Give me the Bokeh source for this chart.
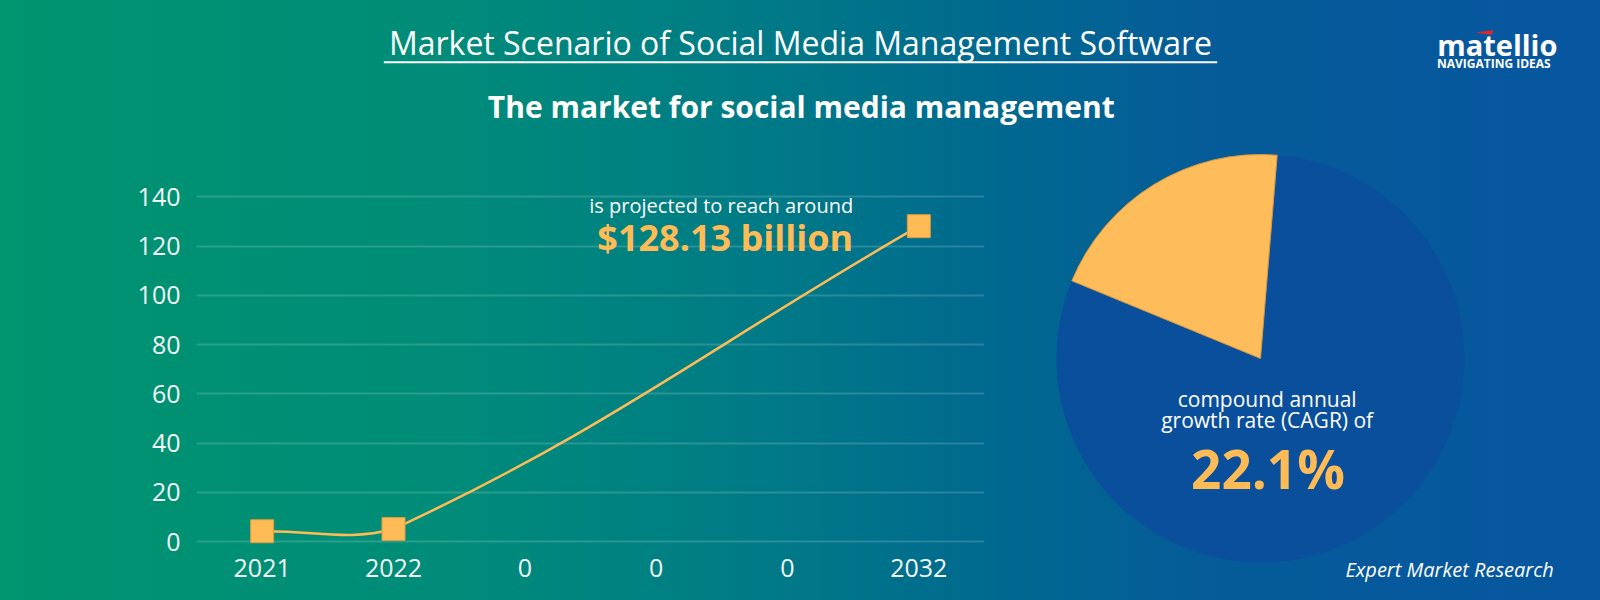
import math
import numpy as np
from bokeh.plotting import figure
from bokeh.layouts import column, row
from bokeh.models import Range1d, FixedTicker, Label
from bokeh.embed import file_html
from bokeh.resources import INLINE

# ---------------- data ----------------
categories = ["2021", "2022", "0", "0", "0", "2032"]
market_values = [4.2, 5.1, None, None, None, 128.13]
y_ticks = [0, 20, 40, 60, 80, 100, 120, 140]

pie_labels = ["CAGR", "rest"]
pie_values = [22.1, 87.9]

title_text = "Market Scenario of Social Media Management Software"
subtitle_text = "The market for social media management"
note_line = "is projected to reach around"
note_value = "$128.13 billion"
cagr_lines = ["compound annual", "growth rate (CAGR) of"]
cagr_value = "22.1%"
source_text = "Expert Market Research"
logo_text = "matellio"
logo_sub = "NAVIGATING IDEAS"

# ---------------- styles ----------------
ORANGE = "#FFBB55"
ORANGE_EDGE = "#E09B3D"
WHITE = "#FFFFFF"
FONT = "Open Sans"
GRADIENT = ("linear-gradient(90deg, #00946f 0%, #008c79 28%, #007a87 48%, "
            "#00698f 62%, #055c98 75%, #0756a0 100%)")


def bare(fig):
    fig.border_fill_color = None
    fig.background_fill_color = None
    fig.outline_line_color = None
    fig.min_border = 0
    fig.frame_align = False
    return fig


# ---------------- header ----------------
header = bare(figure(width=1600, height=148, x_range=Range1d(0, 1600), y_range=Range1d(-148, 0),
                     title=None, x_axis_type=None, y_axis_type=None,
                     output_backend="svg", toolbar_location=None))
header.xgrid.visible = False
header.ygrid.visible = False
header.add_layout(Label(x=800, y=-42.3, text=title_text, text_align="center", text_baseline="alphabetic",
                        text_font=FONT, text_font_size="32px", text_color=WHITE))
header.segment(x0=[383.3], y0=[-61.7], x1=[1216.7], y1=[-61.7], line_color=WHITE, line_width=2)
header.add_layout(Label(x=800.8, y=-106.3, text=subtitle_text, text_align="center", text_baseline="alphabetic",
                        text_font=FONT, text_font_size="30px", text_font_style="bold", text_color=WHITE))
header.add_layout(Label(x=1436.7, y=-44.3, text=logo_text, text_align="left", text_baseline="alphabetic",
                        text_font=FONT, text_font_size="29px", text_font_style="bold", text_color=WHITE))
header.add_layout(Label(x=1436.5, y=-63.0, text=logo_sub, text_align="left", text_baseline="alphabetic",
                        text_font=FONT, text_font_size="12px", text_font_style="bold", text_color=WHITE))
header.patch([1475, 1493, 1491], [-32.0, -29.5, -34.5], fill_color="#E0262B", line_color=None)

# ---------------- line chart ----------------
Y0, Y1 = -2, 141
FRAME_W, FRAME_H = 788, 352
lc = bare(figure(width=1000, height=452, x_range=Range1d(0, len(categories)), y_range=Range1d(Y0, Y1),
                 title=None, output_backend="svg", toolbar_location=None))
lc.min_border_left = 196
lc.min_border_right = 16
lc.min_border_top = 46
lc.min_border_bottom = 54

tick_pos = [i + 0.5 for i in range(len(categories))]
lc.xaxis.ticker = FixedTicker(ticks=tick_pos)
lc.xaxis.major_label_overrides = {t: c for t, c in zip(tick_pos, categories)}
lc.yaxis.ticker = FixedTicker(ticks=y_ticks)
for ax in (lc.xaxis[0], lc.yaxis[0]):
    ax.axis_line_color = None
    ax.major_tick_line_color = None
    ax.minor_tick_line_color = None
    ax.major_label_text_color = "#F2F6F5"
    ax.major_label_text_font = FONT
    ax.major_label_text_font_size = "25px"
lc.xaxis.major_label_standoff = 6
lc.yaxis.major_label_standoff = 10
lc.xgrid.visible = False
lc.ygrid.ticker = FixedTicker(ticks=y_ticks)
lc.ygrid.grid_line_color = WHITE
lc.ygrid.grid_line_alpha = 0.16
lc.ygrid.grid_line_width = 2

# smooth (Chart.js-like, tension 0.4) curve built from the data points
pts = [(i + 0.5, v) for i, v in enumerate(market_values) if v is not None]
kx = FRAME_W / len(categories)
ky = FRAME_H / (Y1 - Y0)
P = [(x * kx, y * ky) for x, y in pts]
tension = 0.4


def cap(px, py):
    return (min(max(px, 0), len(categories) * kx), min(max(py, 0), y_ticks[-1] * ky))


cprev, cnext = [], []
for i, cur in enumerate(P):
    prv = P[i - 1] if i > 0 else cur
    nxt = P[i + 1] if i < len(P) - 1 else cur
    d01 = math.dist(prv, cur)
    d12 = math.dist(cur, nxt)
    tot = d01 + d12
    fa = tension * d01 / tot if tot else 0
    fb = tension * d12 / tot if tot else 0
    dx, dy = nxt[0] - prv[0], nxt[1] - prv[1]
    cprev.append(cap(cur[0] - fa * dx, cur[1] - fa * dy))
    cnext.append(cap(cur[0] + fb * dx, cur[1] + fb * dy))

seg = range(len(P) - 1)
lc.bezier(x0=[P[i][0] / kx for i in seg], y0=[P[i][1] / ky for i in seg],
          x1=[P[i + 1][0] / kx for i in seg], y1=[P[i + 1][1] / ky for i in seg],
          cx0=[cnext[i][0] / kx for i in seg], cy0=[cnext[i][1] / ky for i in seg],
          cx1=[cprev[i + 1][0] / kx for i in seg], cy1=[cprev[i + 1][1] / ky for i in seg],
          line_color=ORANGE, line_width=2.5)
lc.scatter(x=[p[0] for p in pts], y=[p[1] for p in pts], marker="square", size=23,
           fill_color=ORANGE, line_color=ORANGE_EDGE, line_width=1)

lc.add_layout(Label(x=5.0, y=136.5, text=note_line, text_align="right", text_baseline="alphabetic",
                    text_font=FONT, text_font_size="20px", text_color=WHITE))
lc.add_layout(Label(x=5.0, y=123.5, text=note_value, text_align="right", text_baseline="alphabetic",
                    text_font=FONT, text_font_size="36px", text_font_style="bold", text_color=ORANGE))

# ---------------- pie ----------------
pc = bare(figure(width=600, height=452, x_range=Range1d(0, 600), y_range=Range1d(0, 452),
                 title=None, x_axis_type=None, y_axis_type=None,
                 output_backend="svg", toolbar_location=None))
pc.xgrid.visible = False
pc.ygrid.visible = False
start = math.radians(85.3)
fr = np.array(pie_values) / sum(pie_values)
ends = start + np.cumsum(fr) * 2 * math.pi
starts = np.concatenate([[start], ends[:-1]])
pc.wedge(x=[260], y=[242], radius=204, start_angle=[starts[1]], end_angle=[ends[1]],
         fill_color="#0A4F9C", line_color=None)
pc.wedge(x=[260], y=[242], radius=204, start_angle=[starts[0]], end_angle=[ends[0]],
         fill_color="#FFBC5A", line_color="#D8983E", line_width=1)

pc.add_layout(Label(x=266.7, y=202, text=cagr_lines[0], text_align="center", text_baseline="alphabetic",
                    text_font=FONT, text_font_size="21px", text_color=WHITE))
pc.add_layout(Label(x=266.7, y=180.3, text=cagr_lines[1], text_align="center", text_baseline="alphabetic",
                    text_font=FONT, text_font_size="21px", text_color=WHITE))
pc.add_layout(Label(x=267.5, y=132, text=cagr_value, text_align="center", text_baseline="alphabetic",
                    text_font=FONT, text_font_size="53px", text_font_style="bold", text_color=ORANGE))
pc.add_layout(Label(x=553.3, y=31, text=source_text, text_align="right", text_baseline="alphabetic",
                    text_font=FONT, text_font_size="20px", text_font_style="italic", text_color=WHITE))

layout = column(header, row(lc, pc, spacing=0), spacing=0, styles={"background": GRADIENT})

open("out.html", "w").write(file_html(layout, INLINE))
